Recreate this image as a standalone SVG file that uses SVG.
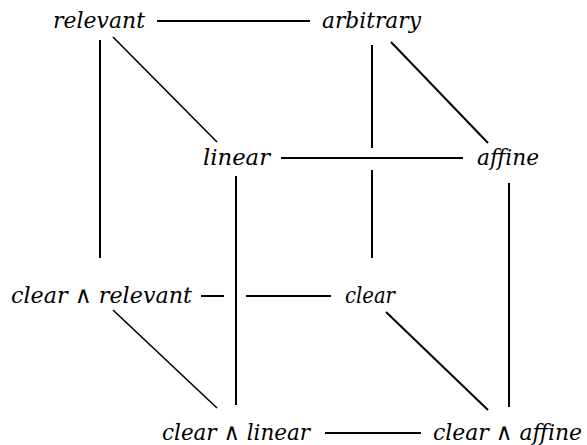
<svg xmlns="http://www.w3.org/2000/svg" width="587" height="445" viewBox="0 0 587 445">
<style>
.e { stroke: #000; stroke-width: 2; fill: none; }
.t { stroke-width: 1.6; }
.lbl { font-family: "DejaVu Serif", "Liberation Serif", serif; font-style: italic; font-size: 22px; fill: #000; }
.op { font-style: normal; font-size: 23px; }
</style>
<rect width="587" height="445" fill="#fff"/>
<g id="connectors">
<line class="e" x1="157" y1="21" x2="310" y2="21"/>
<line class="e t" x1="113" y1="37" x2="217" y2="142"/>
<line class="e" x1="100" y1="40" x2="100" y2="258"/>
<line class="e" x1="372" y1="45" x2="372" y2="148"/>
<line class="e" x1="372" y1="170" x2="372" y2="258"/>
<line class="e" x1="391" y1="42" x2="488" y2="143"/>
<line class="e" x1="281" y1="158" x2="463" y2="158"/>
<line class="e" x1="236" y1="176" x2="236" y2="405"/>
<line class="e" x1="509" y1="183" x2="509" y2="407"/>
<line class="e" x1="201" y1="296" x2="224" y2="296"/>
<line class="e" x1="246" y1="296" x2="331" y2="296"/>
<line class="e t" x1="113" y1="310" x2="217" y2="408"/>
<line class="e" x1="386" y1="312" x2="488" y2="410"/>
<line class="e" x1="325" y1="433" x2="421" y2="433"/>
</g>
<g id="relevant"><text class="lbl" x="53" y="28" textLength="92" lengthAdjust="spacingAndGlyphs">relevant</text></g>
<g id="arbitrary"><text class="lbl" x="322" y="28" textLength="99" lengthAdjust="spacingAndGlyphs">arbitrary</text></g>
<g id="linear"><text class="lbl" x="203" y="165" textLength="67" lengthAdjust="spacingAndGlyphs">linear</text></g>
<g id="affine"><text class="lbl" x="477" y="165" textLength="62" lengthAdjust="spacingAndGlyphs">affine</text></g>
<g id="clear-relevant"><text class="lbl" x="11" y="303" textLength="181" lengthAdjust="spacingAndGlyphs">clear <tspan class="op">∧</tspan> relevant</text></g>
<g id="clear"><text class="lbl" x="345" y="303" textLength="50" lengthAdjust="spacingAndGlyphs">clear</text></g>
<g id="clear-linear"><text class="lbl" x="162" y="440" textLength="148" lengthAdjust="spacingAndGlyphs">clear <tspan class="op">∧</tspan> linear</text></g>
<g id="clear-affine"><text class="lbl" x="433" y="440" textLength="149" lengthAdjust="spacingAndGlyphs">clear <tspan class="op">∧</tspan> affine</text></g>
</svg>
